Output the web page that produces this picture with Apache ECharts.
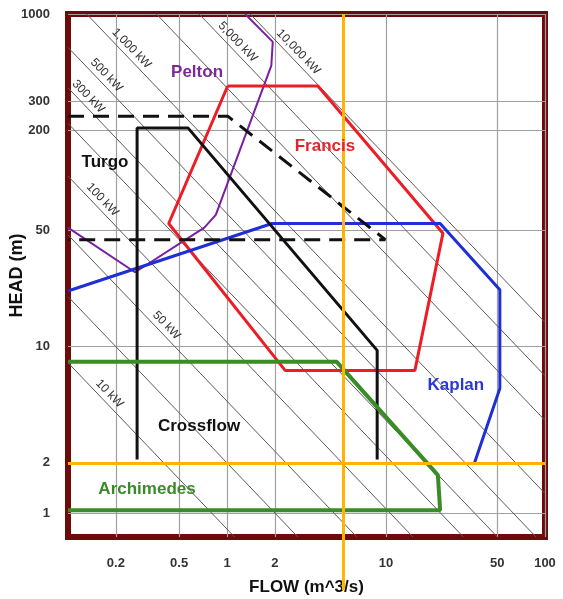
<!DOCTYPE html>
<html>
<head>
<meta charset="utf-8">
<script src="https://cdn.jsdelivr.net/npm/echarts@6.0.0/dist/echarts.min.js"></script>
<style>
  html, body { margin: 0; padding: 0; background: #fff; }
  #main { width: 563px; height: 599px; }
</style>
</head>
<body>
<div id="main"></div>
<script>
// axis ticks
const flowTicks = [0.2, 0.5, 1, 2, 10, 50, 100];
const headTicks = [1, 2, 10, 50, 200, 300, 1000];

// turbine envelopes, [flow m^3/s, head m]
const pelton = [[1.3, 1000], [1.94, 680], [1.9, 490], [0.85, 62], [0.72, 52], [0.264, 28], [0.1, 52]];
const francis = [[1.01, 369], [3.73, 369], [22.8, 48], [15.2, 7.2], [2.32, 7.2], [0.43, 55], [1.01, 369]];
const kaplan = [[0.1, 21.6], [1.92, 55], [21.9, 55], [52, 22], [52, 5.6], [36, 2]];
const turgo = [[0.1, 243], [1.01, 243], [9.9, 44], [0.1, 44]];
const crossflow = [[0.272, 2.1], [0.272, 206], [0.57, 206], [8.8, 9.5], [8.8, 2.1]];
const archimedes = [[0.1, 8.1], [4.9, 8.1], [21.2, 1.69], [21.9, 1.04], [0.1, 1.04]];

// turbine names and where they sit
const turbineNames = ['Pelton', 'Francis', 'Turgo', 'Crossflow', 'Archimedes', 'Kaplan'];
const turbineLabelAt = [[0.648, 448], [4.13, 161], [0.171, 129], [0.667, 3.33], [0.314, 1.39], [27.5, 5.87]];
const turbineColors = ['#7b2a94', '#e3242b', '#111111', '#111111', '#3a8a2a', '#2a3ad0'];

// constant power lines: flow*head product, label and where along the line the label sits (flow)
const powerQH = [0.8, 2, 4.7, 10.6, 22, 36, 63, 131, 360, 668, 1400];
const powerLabels = ['10 kW', '', '50 kW', '100 kW', '', '300 kW', '500 kW', '1,000 kW', '', '5,000 kW', '10,000 kW'];
const powerLabelFlow = [0.167, null, 0.382, 0.151, null, 0.123, 0.16, 0.23, null, 1.07, 2.58];

// annotation lines (orange)
const markFlow = 5.4;
const markHead = 2;

const X_MIN = 0.1, X_MAX = 100, Y_MIN = 0.717, Y_MAX = 1000;
const FONT = 'Liberation Sans, Arial, sans-serif';

const chart = echarts.init(document.getElementById('main'));

let series = [];

// grey diagonal power lines
powerQH.forEach(function (c, i) {
  let q0 = Math.max(X_MIN, c / Y_MAX);
  let q1 = Math.min(X_MAX, c / Y_MIN);
  series.push({
    type: 'line',
    silent: true,
    symbol: 'none',
    data: [[q0, c / q0], [q1, c / q1]],
    lineStyle: { color: '#5a5a5a', width: 1 },
    z: 1
  });
});

// labels on the power lines
let powerLabelData = [];
powerQH.forEach(function (c, i) {
  if (!powerLabels[i]) return;
  let q = powerLabelFlow[i];
  let lift = 1.09;
  powerLabelData.push({ value: [q * lift, c / q * lift], name: powerLabels[i] });
});
series.push({
  type: 'scatter',
  silent: true,
  symbolSize: 1,
  itemStyle: { color: 'rgba(0,0,0,0)', opacity: 1 },
  data: powerLabelData,
  label: {
    show: true,
    position: 'inside',
    rotate: -46,
    formatter: '{b}',
    color: '#333',
    fontSize: 12,
    fontFamily: FONT
  },
  z: 2
});

function envelope(data, color, width, type) {
  return {
    type: 'line',
    silent: true,
    symbol: 'none',
    data: data,
    lineStyle: { color: color, width: width, type: type || 'solid' },
    z: 3
  };
}

series.push(envelope(pelton, '#7a1fa2', 2));
series.push(envelope(francis, '#ee1c25', 3));
series.push(envelope(kaplan, '#1f2fd6', 3));
series.push(envelope(turgo, '#111', 3, [16, 9]));
series.push(envelope(crossflow, '#111', 3));
let arch = envelope(archimedes, '#3a8c26', 4);
arch.markLine = {
  silent: true,
  symbol: 'none',
  label: { show: false },
  lineStyle: { color: '#ffb400', width: 3, type: 'solid' },
  data: [{ xAxis: markFlow }, { yAxis: markHead }]
};
series.push(arch);

// turbine names
series.push({
  type: 'scatter',
  silent: true,
  symbolSize: 1,
  itemStyle: { color: 'rgba(0,0,0,0)', opacity: 1 },
  data: turbineNames.map(function (n, i) {
    return {
      value: turbineLabelAt[i],
      name: n,
      label: { color: turbineColors[i] }
    };
  }),
  label: {
    show: true,
    position: 'inside',
    formatter: '{b}',
    fontSize: 17,
    fontWeight: 'bold',
    fontFamily: FONT
  },
  z: 5
});

const option = {
  animation: false,
  backgroundColor: '#fff',
  grid: {
    left: 68,
    right: 18,
    top: 14,
    bottom: 62,
    containLabel: false,
    outerBoundsMode: 'none',
    show: true,
    borderColor: '#6e0a0a',
    borderWidth: 6
  },
  xAxis: {
    type: 'log',
    logBase: 10,
    min: X_MIN,
    max: X_MAX,
    name: 'FLOW (m^3/s)',
    nameLocation: 'middle',
    nameGap: 42,
    nameMoveOverlap: false,
    nameTextStyle: { fontSize: 17, fontWeight: 'bold', color: '#111', fontFamily: FONT },
    axisLine: { show: false },
    axisTick: { show: false, customValues: flowTicks },
    axisLabel: {
      customValues: flowTicks,
      formatter: function (v) { return String(v); },
      margin: 20,
      fontSize: 13,
      fontWeight: 'bold',
      color: '#333',
      fontFamily: FONT
    },
    splitLine: { show: true, lineStyle: { color: '#a0a0a0', width: 1.2 } },
    minorSplitLine: { show: false }
  },
  yAxis: {
    type: 'log',
    logBase: 10,
    min: Y_MIN,
    max: Y_MAX,
    name: 'HEAD (m)',
    nameLocation: 'middle',
    nameGap: 42,
    nameMoveOverlap: false,
    nameRotate: 90,
    nameTextStyle: { fontSize: 18, fontWeight: 'bold', color: '#111', fontFamily: FONT },
    axisLine: { show: false },
    axisTick: { show: false, customValues: headTicks },
    axisLabel: {
      customValues: headTicks,
      formatter: function (v) { return String(v); },
      margin: 18,
      fontSize: 13,
      fontWeight: 'bold',
      color: '#333',
      fontFamily: FONT
    },
    splitLine: { show: true, lineStyle: { color: '#a0a0a0', width: 1.2 } }
  },
  series: series
};

chart.setOption(option);

// orange flow marker runs on below the plot, through the axis labels
let px = chart.convertToPixel({ xAxisIndex: 0 }, markFlow);
let pyBottom = chart.convertToPixel({ yAxisIndex: 0 }, Y_MIN);
chart.setOption({
  graphic: [{
    type: 'line',
    silent: true,
    shape: { x1: px, y1: pyBottom, x2: px, y2: pyBottom + 53 },
    style: { stroke: '#ffb400', lineWidth: 3 },
    z: 10
  }]
});
</script>
</body>
</html>
